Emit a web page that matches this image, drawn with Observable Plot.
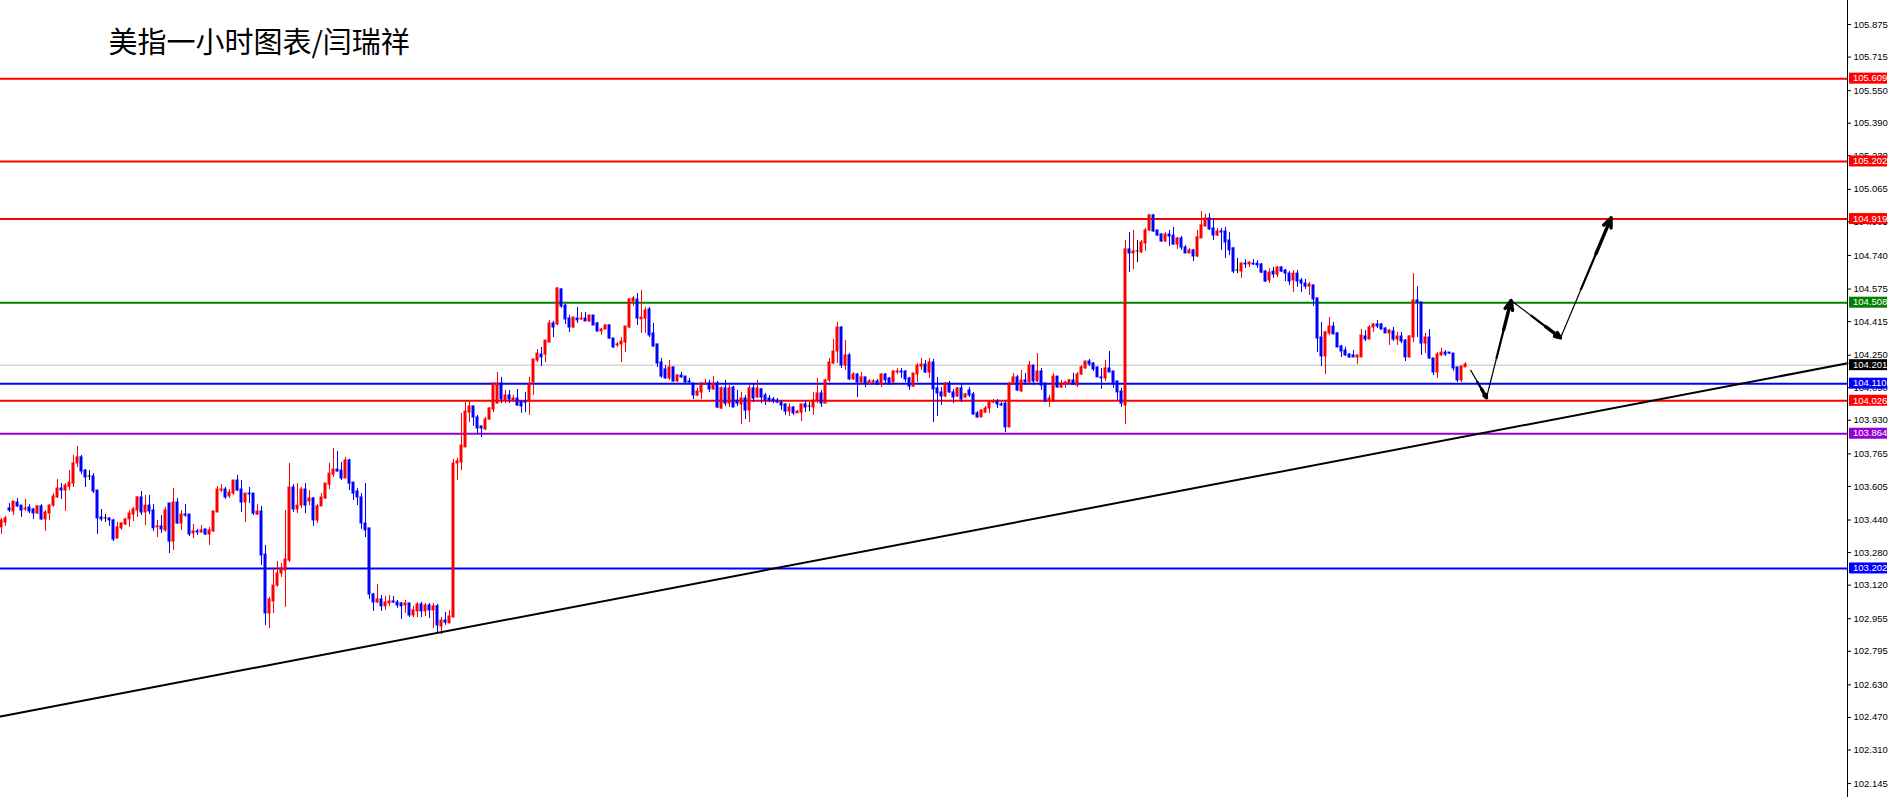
<!DOCTYPE html>
<html>
<head>
<meta charset="utf-8">
<script src="https://cdn.jsdelivr.net/npm/d3@7"></script>
<script src="https://cdn.jsdelivr.net/npm/@observablehq/plot@0.6"></script>
<style>
html, body { margin: 0; padding: 0; background: #fff; overflow: hidden; }
#chart svg { display: block; }
</style>
</head>
<body>
<div id="chart"></div>
<script>
// ---------- data ----------
const titleText = "美指一小时图表/闫瑞祥";

const opens = [
103.404,103.428,103.497,103.482,103.526,103.511,103.492,103.502,103.492,103.472,
103.507,103.443,103.472,103.511,103.551,103.595,103.585,103.604,103.619,103.718,
103.748,103.683,103.654,103.654,103.585,103.453,103.448,103.448,103.438,103.349,
103.399,103.418,103.443,103.467,103.487,103.551,103.477,103.511,103.487,103.404,
103.409,103.389,103.521,103.334,103.526,103.423,103.467,103.467,103.374,103.384,
103.379,103.394,103.369,103.384,103.477,103.585,103.590,103.556,103.570,103.634,
103.590,103.526,103.570,103.570,103.467,103.482,103.270,102.981,103.040,103.118,
103.177,103.192,103.241,103.600,103.492,103.511,103.590,103.531,103.546,103.438,
103.507,103.546,103.614,103.663,103.688,103.683,103.644,103.733,103.624,103.580,
103.551,103.423,103.399,103.074,103.035,103.050,103.016,103.030,103.040,103.035,
103.030,103.020,103.030,102.971,102.991,103.025,102.991,103.020,102.996,103.016,
102.917,102.946,102.932,102.961,103.718,103.723,103.797,103.968,103.998,103.944,
103.900,103.885,103.934,103.983,104.012,104.111,104.027,104.052,104.027,104.037,
104.022,104.022,104.022,104.116,104.224,104.253,104.253,104.312,104.406,104.401,
104.573,104.494,104.430,104.386,104.430,104.426,104.430,104.416,104.445,104.406,
104.367,104.376,104.396,104.332,104.298,104.303,104.312,104.386,104.514,104.524,
104.426,104.430,104.475,104.357,104.303,104.214,104.180,104.136,104.190,104.121,
104.150,104.145,104.121,104.111,104.052,104.067,104.106,104.111,104.082,104.111,
103.988,104.087,104.012,104.091,104.027,104.008,104.037,103.978,104.087,104.042,
104.082,104.052,104.037,104.032,104.027,104.017,104.008,103.973,103.993,103.964,
103.968,104.008,103.998,103.993,104.027,104.062,104.012,104.126,104.209,104.268,
104.386,104.199,104.249,104.131,104.155,104.116,104.141,104.111,104.116,104.121,
104.106,104.155,104.136,104.116,104.165,104.170,104.170,104.136,104.096,104.155,
104.194,104.204,104.165,104.214,104.087,104.067,104.047,104.111,104.067,104.047,
104.087,104.042,104.077,104.057,103.964,103.944,103.968,103.988,104.017,104.022,
104.008,104.012,103.895,104.106,104.141,104.072,104.126,104.116,104.199,104.121,
104.170,104.111,104.027,104.022,104.145,104.091,104.106,104.111,104.126,104.101,
104.155,104.185,104.219,104.209,104.190,104.141,104.136,104.185,104.170,104.121,
104.072,104.003,104.770,104.750,104.760,104.755,104.799,104.863,104.937,104.863,
104.843,104.809,104.843,104.838,104.794,104.824,104.779,104.750,104.765,104.735,
104.824,104.883,104.922,104.873,104.838,104.858,104.858,104.814,104.775,104.666,
104.661,104.700,104.696,104.700,104.700,104.696,104.661,104.617,104.661,104.646,
104.681,104.666,104.651,104.617,104.651,104.617,104.602,104.587,104.592,104.529,
104.337,104.244,104.357,104.391,104.357,104.293,104.273,104.253,104.249,104.239,
104.239,104.342,104.327,104.386,104.401,104.401,104.381,104.357,104.367,104.327,
104.342,104.322,104.239,104.337,104.519,104.509,104.307,104.337,104.234,104.165,
104.249,104.263,104.263,104.258,104.190,104.126,104.190
];

const highs = [
103.448,103.458,103.521,103.531,103.546,103.511,103.541,103.516,103.497,103.511,
103.516,103.487,103.516,103.570,103.639,103.619,103.619,103.683,103.757,103.802,
103.757,103.688,103.683,103.668,103.585,103.492,103.467,103.448,103.443,103.428,
103.428,103.448,103.487,103.502,103.556,103.580,103.561,103.561,103.516,103.438,
103.462,103.502,103.521,103.595,103.546,103.487,103.516,103.467,103.418,103.394,
103.413,103.394,103.404,103.482,103.604,103.614,103.600,103.590,103.634,103.659,
103.634,103.570,103.600,103.570,103.516,103.507,103.315,103.060,103.202,103.236,
103.226,103.487,103.718,103.614,103.619,103.600,103.619,103.585,103.551,103.516,
103.570,103.619,103.718,103.792,103.777,103.723,103.748,103.738,103.624,103.595,
103.570,103.619,103.399,103.079,103.123,103.069,103.064,103.069,103.064,103.045,
103.035,103.045,103.030,103.016,103.035,103.035,103.030,103.030,103.030,103.025,
102.961,102.986,102.996,103.738,103.743,103.964,104.027,104.027,103.998,103.954,
103.900,103.944,103.993,104.111,104.165,104.141,104.077,104.077,104.052,104.082,
104.027,104.067,104.141,104.229,104.278,104.288,104.322,104.421,104.416,104.583,
104.578,104.499,104.445,104.435,104.484,104.460,104.460,104.445,104.445,104.411,
104.381,104.401,104.401,104.332,104.312,104.337,104.391,104.529,104.539,104.553,
104.568,104.484,104.484,104.406,104.303,104.234,104.199,104.224,104.190,104.155,
104.165,104.145,104.136,104.111,104.087,104.116,104.131,104.126,104.145,104.121,
104.096,104.126,104.101,104.096,104.077,104.067,104.052,104.101,104.106,104.126,
104.087,104.062,104.052,104.042,104.037,104.027,104.012,104.012,103.998,103.978,
104.008,104.027,104.017,104.067,104.136,104.077,104.131,104.234,104.327,104.411,
104.391,104.322,104.258,104.165,104.160,104.165,104.141,104.131,104.131,104.131,
104.160,104.160,104.141,104.175,104.185,104.185,104.175,104.141,104.160,104.209,
104.234,104.224,104.234,104.229,104.141,104.091,104.116,104.121,104.082,104.091,
104.111,104.062,104.091,104.067,103.973,103.983,103.998,104.027,104.032,104.032,
104.017,104.022,104.116,104.160,104.150,104.175,104.160,104.219,104.199,104.258,
104.185,104.111,104.052,104.160,104.145,104.126,104.121,104.131,104.160,104.165,
104.199,104.219,104.229,104.214,104.190,104.185,104.224,104.268,104.170,104.121,
104.087,104.814,104.853,104.863,104.814,104.814,104.873,104.942,104.942,104.863,
104.848,104.853,104.863,104.878,104.829,104.833,104.789,104.775,104.770,104.863,
104.956,104.942,104.946,104.922,104.873,104.873,104.878,104.853,104.779,104.725,
104.705,104.720,104.710,104.720,104.715,104.700,104.666,104.676,104.681,104.686,
104.686,104.671,104.661,104.666,104.666,104.627,104.622,104.607,104.597,104.529,
104.411,104.367,104.435,104.411,104.362,104.298,104.288,104.258,104.273,104.249,
104.376,104.371,104.396,104.406,104.421,104.406,104.386,104.376,104.386,104.362,
104.362,104.327,104.347,104.651,104.587,104.509,104.357,104.376,104.234,104.263,
104.283,104.273,104.263,104.258,104.190,104.199,104.214
];

const lows = [
103.369,103.409,103.477,103.462,103.502,103.453,103.482,103.472,103.443,103.467,
103.438,103.384,103.438,103.502,103.546,103.541,103.482,103.585,103.600,103.698,
103.663,103.600,103.634,103.570,103.369,103.433,103.428,103.409,103.334,103.349,
103.389,103.413,103.404,103.433,103.453,103.462,103.413,103.467,103.384,103.354,
103.374,103.379,103.275,103.290,103.418,103.389,103.453,103.359,103.349,103.364,
103.374,103.364,103.315,103.379,103.477,103.575,103.541,103.546,103.561,103.580,
103.477,103.428,103.521,103.462,103.462,103.217,102.922,102.907,102.981,103.109,
103.158,103.011,103.231,103.477,103.472,103.497,103.472,103.511,103.409,103.423,
103.507,103.541,103.590,103.649,103.678,103.634,103.644,103.585,103.536,103.511,
103.394,103.354,103.050,102.991,103.030,102.991,102.996,103.016,103.030,103.006,
102.951,102.981,102.961,102.961,102.961,102.961,102.966,102.956,102.907,102.882,
102.877,102.922,102.932,102.961,103.634,103.683,103.797,103.919,103.900,103.860,
103.845,103.880,103.929,103.968,104.012,104.012,104.012,104.012,104.017,103.998,
103.964,103.968,103.954,104.052,104.214,104.194,104.214,104.312,104.337,104.396,
104.480,104.401,104.362,104.381,104.406,104.421,104.416,104.411,104.396,104.362,
104.347,104.376,104.327,104.283,104.288,104.214,104.263,104.381,104.489,104.396,
104.357,104.357,104.337,104.288,104.190,104.136,104.131,104.126,104.116,104.116,
104.136,104.111,104.106,104.032,104.047,104.032,104.106,104.067,104.077,103.988,
103.983,103.998,103.993,103.993,103.998,103.909,103.934,103.919,104.017,104.037,
104.012,104.003,104.017,104.012,104.012,103.978,103.954,103.949,103.954,103.964,
103.924,103.968,103.973,103.954,104.012,103.993,104.012,104.116,104.204,104.209,
104.185,104.175,104.126,104.126,104.042,104.101,104.091,104.106,104.111,104.101,
104.091,104.106,104.101,104.111,104.155,104.136,104.116,104.077,104.091,104.116,
104.175,104.160,104.136,103.919,103.949,104.003,104.042,104.062,104.012,104.042,
104.017,104.037,104.042,103.954,103.939,103.944,103.964,103.964,104.012,103.988,
103.998,103.870,103.895,104.101,104.072,104.067,104.101,104.106,104.101,104.116,
104.077,104.017,103.993,104.017,104.087,104.087,104.087,104.106,104.101,104.091,
104.150,104.180,104.194,104.170,104.141,104.082,104.121,104.165,104.087,104.027,
103.993,103.909,104.656,104.671,104.705,104.750,104.760,104.858,104.853,104.833,
104.804,104.804,104.784,104.789,104.770,104.765,104.750,104.750,104.710,104.730,
104.824,104.878,104.863,104.814,104.833,104.765,104.725,104.740,104.651,104.651,
104.627,104.676,104.681,104.691,104.676,104.651,104.607,104.602,104.627,104.632,
104.656,104.612,104.592,104.558,104.583,104.558,104.573,104.543,104.489,104.263,
104.194,104.155,104.347,104.352,104.288,104.239,104.244,104.234,104.239,104.204,
104.239,104.317,104.327,104.362,104.381,104.376,104.357,104.298,104.317,104.298,
104.307,104.219,104.234,104.312,104.337,104.249,104.258,104.229,104.150,104.136,
104.244,104.244,104.253,104.170,104.116,104.116,104.190
];

const closes = [
103.438,103.448,103.487,103.531,103.507,103.487,103.497,103.482,103.472,103.507,
103.443,103.477,103.511,103.556,103.595,103.585,103.609,103.624,103.718,103.748,
103.678,103.649,103.654,103.580,103.448,103.443,103.448,103.438,103.344,103.404,
103.423,103.443,103.472,103.492,103.551,103.477,103.511,103.482,103.399,103.409,
103.394,103.487,103.334,103.526,103.423,103.467,103.462,103.369,103.384,103.379,
103.389,103.369,103.389,103.482,103.590,103.590,103.551,103.575,103.634,103.585,
103.526,103.570,103.566,103.472,103.482,103.266,102.981,103.050,103.118,103.177,
103.202,103.246,103.600,103.492,103.511,103.590,103.511,103.546,103.438,103.507,
103.551,103.619,103.668,103.688,103.678,103.644,103.733,103.619,103.570,103.551,
103.423,103.389,103.074,103.035,103.050,103.016,103.035,103.040,103.035,103.020,
103.016,103.030,102.971,102.996,103.025,102.991,103.020,102.996,103.016,102.922,
102.946,102.936,102.966,103.718,103.728,103.806,103.973,103.998,103.944,103.890,
103.890,103.934,103.988,104.111,104.111,104.032,104.052,104.032,104.037,104.003,
103.998,104.017,104.111,104.229,104.258,104.239,104.322,104.406,104.386,104.578,
104.489,104.426,104.386,104.435,104.421,104.430,104.416,104.445,104.396,104.367,
104.376,104.396,104.332,104.288,104.303,104.317,104.391,104.524,104.529,104.430,
104.435,104.470,104.347,104.293,104.209,104.145,104.136,104.190,104.121,104.150,
104.141,104.116,104.116,104.052,104.072,104.111,104.111,104.082,104.111,103.993,
104.087,104.012,104.087,103.993,104.012,104.037,103.978,104.087,104.037,104.087,
104.042,104.027,104.027,104.022,104.017,104.003,103.973,103.993,103.964,103.973,
104.008,103.993,103.998,104.027,104.062,104.012,104.126,104.214,104.268,104.386,
104.199,104.249,104.131,104.155,104.116,104.141,104.111,104.121,104.121,104.106,
104.155,104.126,104.111,104.170,104.170,104.165,104.131,104.096,104.160,104.199,
104.204,104.165,104.214,104.082,104.062,104.047,104.111,104.067,104.042,104.087,
104.032,104.057,104.052,103.959,103.944,103.978,103.988,104.017,104.022,104.008,
104.003,103.895,104.111,104.141,104.077,104.126,104.116,104.199,104.121,104.170,
104.101,104.022,104.037,104.145,104.091,104.111,104.116,104.126,104.106,104.155,
104.190,104.219,104.204,104.180,104.141,104.136,104.185,104.165,104.111,104.067,
104.012,104.770,104.750,104.760,104.760,104.804,104.863,104.937,104.858,104.838,
104.809,104.843,104.833,104.794,104.824,104.779,104.750,104.765,104.735,104.829,
104.888,104.922,104.868,104.838,104.858,104.853,104.804,104.765,104.661,104.666,
104.700,104.696,104.705,104.696,104.691,104.656,104.612,104.656,104.646,104.681,
104.661,104.651,104.612,104.651,104.612,104.602,104.587,104.597,104.524,104.332,
104.244,104.362,104.391,104.352,104.288,104.268,104.249,104.239,104.239,104.249,
104.347,104.327,104.386,104.401,104.391,104.376,104.357,104.371,104.327,104.342,
104.317,104.239,104.342,104.519,104.509,104.307,104.337,104.234,104.165,104.253,
104.263,104.253,104.258,104.185,104.126,104.194,104.204
];

// horizontal levels
const levelValues = [105.609, 105.202, 104.919, 104.508, 104.110, 104.026, 103.864, 103.202];
const levelColors = ["#ff0000", "#ff0000", "#ff0000", "#008000", "#0000ff", "#ff0000", "#9400d3", "#0000ff"];
const currentPrice = 104.201;

// right price axis ticks
const tickValues = [105.875, 105.715, 105.550, 105.390, 105.230, 105.065, 104.905, 104.740, 104.575,
  104.415, 104.250, 104.090, 103.930, 103.765, 103.605, 103.440, 103.280, 103.120, 102.955,
  102.795, 102.630, 102.470, 102.310, 102.145];

// trend line (bar index, price)
const trendIdx = [-0.25, 461.5];
const trendPrice = [102.475, 104.21];

// forecast arrow path (bar index, price)
const arrowIdx = [367.25, 371.25, 377.4, 389.75, 402.4];
const arrowPrice = [104.178, 104.041, 104.519, 104.335, 104.925];

// visible window
const xDomain = [-0.25, 461.5];
const yDomain = [102.0765, 105.993];

// ---------- build ----------
const UP = "#ff0000", DOWN = "#0000ff", FLAT = "#000000";
const candles = opens.map((o, i) => {
  const c = closes[i];
  return {
    i, o, c,
    h: Math.max(highs[i], o, c),
    l: Math.min(lows[i], o, c),
    color: c > o ? UP : c < o ? DOWN : FLAT
  };
});
const levels = levelValues.map((v, k) => ({v, color: levelColors[k]}));
const trend = trendIdx.map((x, k) => ({x, y: trendPrice[k]}));
const arrowPts = arrowIdx.map((x, k) => ({x, y: arrowPrice[k]}));
const segs = d3.pairs(arrowPts);
const part = t => segs.map(([a, b]) => ({
  x1: a.x + (b.x - a.x) * t, y1: a.y + (b.y - a.y) * t, x2: b.x, y2: b.y
}));

const W = 1892, H = 797;
const plot = Plot.plot({
  width: W,
  height: H,
  marginLeft: 0,
  marginRight: 45,
  marginTop: 0,
  marginBottom: 0,
  style: {fontFamily: "'Liberation Sans', Arial, sans-serif", fontSize: "9.5px", background: "#fff", color: "#000"},
  x: {domain: xDomain, axis: null},
  y: {domain: yDomain, axis: "right", ticks: tickValues, tickFormat: d3.format(".3f"), tickSize: 3, tickPadding: 3, label: null},
  marks: [
    Plot.ruleY([currentPrice], {stroke: "#c0c0c0", strokeWidth: 1}),
    Plot.ruleY(levels, {y: "v", stroke: "color", strokeWidth: 2}),
    Plot.ruleX(candles, {x: "i", y1: "l", y2: "h", stroke: "color", strokeWidth: 1}),
    Plot.rect(candles, {
      x1: d => d.i - 0.375, x2: d => d.i + 0.375, y1: "o", y2: "c",
      fill: "color", insetTop: -0.5, insetBottom: -0.5
    }),
    Plot.line(trend, {x: "x", y: "y", stroke: "#000", strokeWidth: 2}),
    Plot.link(part(0), {x1: "x1", y1: "y1", x2: "x2", y2: "y2", stroke: "#000", strokeWidth: 1.2}),
    Plot.link(part(0.4), {x1: "x1", y1: "y1", x2: "x2", y2: "y2", stroke: "#000", strokeWidth: 2.2}),
    Plot.arrow(part(0.7), {x1: "x1", y1: "y1", x2: "x2", y2: "y2", stroke: "#000", strokeWidth: 3.4, headLength: 4.5, headAngle: 45}),
    Plot.ruleX([xDomain[1]], {stroke: "#000", strokeWidth: 1}),
    Plot.text([titleText], {
      frameAnchor: "top-left", dx: 108, dy: 43, textAnchor: "start", lineAnchor: "middle",
      fontSize: 29, fontFamily: "'Noto Sans CJK SC', sans-serif", fill: "#000"
    })
  ]
});

// price tags on the right axis, positioned through Plot's own scales
const ys = plot.scale("y"), xs = plot.scale("x");
const axisX = xs.apply(xDomain[1]);
const fmt = d3.format(".3f");
const tags = levels.concat([{v: currentPrice, color: "#000"}]);
const g = d3.select(plot).append("g")
  .attr("font-family", "'Liberation Sans', Arial, sans-serif")
  .attr("font-size", "9.5px")
  .attr("text-anchor", "start");
tags.forEach(t => {
  const yy = ys.apply(t.v);
  g.append("rect").attr("x", axisX + 2).attr("y", yy - 5.5).attr("width", 38).attr("height", 11).attr("fill", t.color);
  g.append("text").attr("x", axisX + 6).attr("y", yy).attr("dy", "0.34em")
    .attr("text-anchor", "start").attr("fill", "#fff").text(fmt(t.v));
});

document.getElementById("chart").appendChild(plot);
</script>
</body>
</html>
